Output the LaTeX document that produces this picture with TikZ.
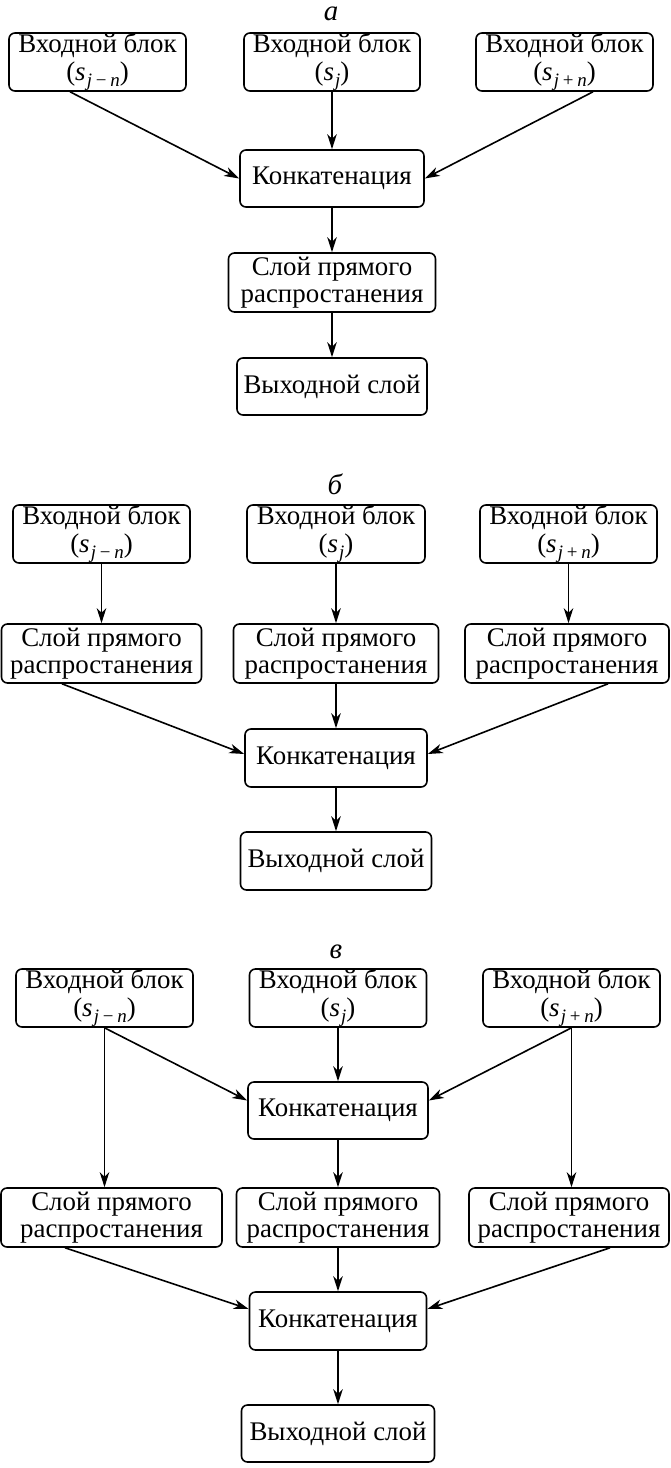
\documentclass[tikz,border=0pt]{standalone}
\usepackage{fontspec}
\setmainfont{Liberation Serif}
\usetikzlibrary{arrows.meta}

% index in parentheses, e.g. (s_{j-n})
\newcommand{\sidx}[1]{(\textit{s}\hspace{0.04em}\raisebox{-0.24em}{\fontsize{19}{19}\selectfont #1})}
\newcommand{\jmn}{\textit{j}\hspace{0.2em}−\hspace{0.2em}\textit{n}}
\newcommand{\jpn}{\textit{j}\hspace{0.2em}+\hspace{0.2em}\textit{n}}
\newcommand{\inblock}[1]{Входной блок\\[1bp]\sidx{#1}}
\newcommand{\ffl}{Слой прямого\\распростанения}

\tikzset{
  box/.style={draw, rounded corners=6bp, line width=1.6bp, align=center,
    inner sep=0pt, font=\fontsize{27}{27}\selectfont},
  arr/.style={-{Stealth[length=15bp,width=9.5bp,inset=4.5bp]}, line width=1.6bp},
  panel/.style={font=\fontsize{29}{29}\selectfont\itshape, inner sep=0pt},
}

\begin{document}
\begin{tikzpicture}[x=1bp,y=-1bp]
\useasboundingbox (0,0) rectangle (671,1468);

% ---------------- panel a ----------------
\node[panel] (lab_a) at (331,14) {а};
\node[box, minimum width=177bp, minimum height=58bp] (a_in1) at (97.5,62) {\inblock{\jmn}};
\node[box, minimum width=176bp, minimum height=58bp] (a_in2) at (332,62) {\inblock{\textit{j}}};
\node[box, minimum width=177bp, minimum height=58bp] (a_in3) at (564.5,62) {\inblock{\jpn}};
\node[box, minimum width=184bp, minimum height=57bp] (a_cat) at (332,178.5) {Конкатенация};
\node[box, minimum width=207bp, minimum height=59bp] (a_ff) at (332,282.5) {\ffl};
\node[box, minimum width=190bp, minimum height=57bp] (a_out) at (332,386.5) {Выходной слой};

\draw[arr] ([xshift=-27.5bp]a_in1.south) -- (a_cat.west);
\draw[arr] (a_in2.south) -- (a_cat.north);
\draw[arr] ([xshift=28.5bp]a_in3.south) -- (a_cat.east);
\draw[arr] (a_cat.south) -- (a_ff.north);
\draw[arr] (a_ff.south) -- (a_out.north);

% ---------------- panel b ----------------
\node[panel] (lab_b) at (335,484) {б};
\node[box, minimum width=177bp, minimum height=58bp] (b_in1) at (101.5,534) {\inblock{\jmn}};
\node[box, minimum width=178bp, minimum height=58bp] (b_in2) at (336,534) {\inblock{\textit{j}}};
\node[box, minimum width=177bp, minimum height=58bp] (b_in3) at (568.5,534) {\inblock{\jpn}};
\node[box, minimum width=200bp, minimum height=59bp] (b_ff1) at (101.5,653.5) {\ffl};
\node[box, minimum width=205bp, minimum height=59bp] (b_ff2) at (336,653.5) {\ffl};
\node[box, minimum width=204bp, minimum height=59bp] (b_ff3) at (567,653.5) {\ffl};
\node[box, minimum width=182bp, minimum height=58bp] (b_cat) at (336,758) {Конкатенация};
\node[box, minimum width=191bp, minimum height=58bp] (b_out) at (336,861) {Выходной слой};

\draw[arr] (b_in1.south) -- (b_ff1.north);
\draw[arr] (b_in2.south) -- (b_ff2.north);
\draw[arr] (b_in3.south) -- (b_in3.south |- b_ff3.north);
\draw[arr] ([xshift=-39.5bp]b_ff1.south) -- ([yshift=4bp]b_cat.west);
\draw[arr] (b_ff2.south) -- (b_cat.north);
\draw[arr] ([xshift=41bp]b_ff3.south) -- ([yshift=4bp]b_cat.east);
\draw[arr] (b_cat.south) -- (b_out.north);

% ---------------- panel c ----------------
\node[panel] (lab_c) at (336,952) {в};
\node[box, minimum width=177bp, minimum height=58bp] (c_in1) at (104.5,998) {\inblock{\jmn}};
\node[box, minimum width=177bp, minimum height=58bp] (c_in2) at (338,998) {\inblock{\textit{j}}};
\node[box, minimum width=177bp, minimum height=58bp] (c_in3) at (571.5,998) {\inblock{\jpn}};
\node[box, minimum width=180bp, minimum height=57bp] (c_cat1) at (338,1110.5) {Конкатенация};
\node[box, minimum width=221bp, minimum height=59bp] (c_ff1) at (111.5,1217.5) {\ffl};
\node[box, minimum width=203bp, minimum height=59bp] (c_ff2) at (338,1217.5) {\ffl};
\node[box, minimum width=200bp, minimum height=59bp] (c_ff3) at (569,1217.5) {\ffl};
\node[box, minimum width=177bp, minimum height=58bp] (c_cat2) at (338,1321) {Конкатенация};
\node[box, minimum width=193bp, minimum height=57bp] (c_out) at (338,1433.5) {Выходной слой};

\draw[arr] (c_in1.south) -- ([yshift=10bp]c_cat1.west);
\draw[arr] (c_in1.south) -- (c_in1.south |- c_ff1.north);
\draw[arr] (c_in2.south) -- (c_cat1.north);
\draw[arr] (c_in3.south) -- ([yshift=10bp]c_cat1.east);
\draw[arr] (c_in3.south) -- (c_in3.south |- c_ff3.north);
\draw[arr] (c_cat1.south) -- (c_ff2.north);
\draw[arr] ([xshift=-46.5bp]c_ff1.south) -- ([yshift=12bp]c_cat2.west);
\draw[arr] (c_ff2.south) -- (c_cat2.north);
\draw[arr] ([xshift=41bp]c_ff3.south) -- ([yshift=12bp]c_cat2.east);
\draw[arr] (c_cat2.south) -- (c_out.north);
\end{tikzpicture}
\end{document}
